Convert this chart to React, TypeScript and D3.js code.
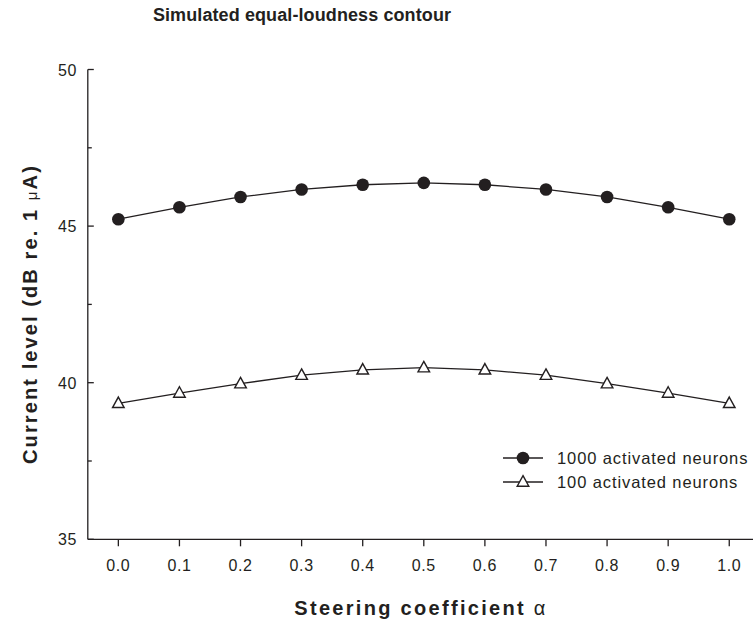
import React from "react";
import * as d3 from "d3";

const alphas = [0.0, 0.1, 0.2, 0.3, 0.4, 0.5, 0.6, 0.7, 0.8, 0.9, 1.0];
const neurons1000 = [45.22, 45.6, 45.93, 46.17, 46.32, 46.38, 46.32, 46.17, 45.93, 45.6, 45.22];
const neurons100 = [39.34, 39.67, 39.97, 40.24, 40.41, 40.48, 40.41, 40.24, 39.97, 39.67, 39.34];
const xTicks = [0.0, 0.1, 0.2, 0.3, 0.4, 0.5, 0.6, 0.7, 0.8, 0.9, 1.0];
const yTicks = [35, 40, 45, 50];
const yMinorTicks = [37.5, 42.5, 47.5];
const seriesNames = ["1000 activated neurons", "100 activated neurons"];

const W = 753;
const H = 625;
const FONT = "'Liberation Sans', Arial, Helvetica, sans-serif";
const INK = "#231f20";

export default function App() {
  const x = d3.scaleLinear().domain([-0.05, 1.05]).range([87.8, 759.8]);
  const y = d3.scaleLinear().domain([35, 50]).range([539.3, 69.5]);
  const line = d3
    .line<number>()
    .x((_, i) => x(alphas[i]))
    .y((d) => y(d));

  const tri = (cx: number, cy: number) =>
    `M${cx},${cy - 6.3} L${cx + 5.8},${cy + 4.2} L${cx - 5.8},${cy + 4.2} Z`;

  const x0 = x.range()[0];
  const y0 = y.range()[0];

  return (
    <svg
      width={W}
      height={H}
      style={{ position: "absolute", left: 0, top: 0, background: "#fff" }}
      fontFamily={FONT}
    >
      {/* title */}
      <text
        x={302}
        y={21}
        textAnchor="middle"
        fontSize={18}
        fontWeight="bold"
        letterSpacing={0.1}
        fill={INK}
      >
        Simulated equal-loudness contour
      </text>

      {/* axes */}
      <line x1={x0} x2={x0} y1={y(50)} y2={y0} stroke={INK} strokeWidth={1.3} />
      <line x1={x0} x2={W + 10} y1={y0} y2={y0} stroke={INK} strokeWidth={1.3} />

      {yTicks.map((t) => (
        <g key={"y" + t}>
          <line x1={x0} x2={x0 + 6} y1={y(t)} y2={y(t)} stroke={INK} strokeWidth={1.3} />
          <text
            x={77}
            y={y(t) + 6}
            textAnchor="end"
            fontSize={16}
            letterSpacing={0.6}
            fill={INK}
          >
            {t}
          </text>
        </g>
      ))}
      {yMinorTicks.map((t) => (
        <line key={"ym" + t} x1={x0} x2={x0 + 4} y1={y(t)} y2={y(t)} stroke={INK} strokeWidth={1.3} />
      ))}

      {xTicks.map((t) => (
        <g key={"x" + t}>
          <line x1={x(t)} x2={x(t)} y1={y0} y2={y0 + 7} stroke={INK} strokeWidth={1.3} />
          <text
            x={x(t)}
            y={571}
            textAnchor="middle"
            fontSize={16}
            letterSpacing={0.6}
            fill={INK}
          >
            {t.toFixed(1)}
          </text>
        </g>
      ))}

      {/* axis labels */}
      <text
        x={421}
        y={615}
        textAnchor="middle"
        fontSize={20}
        fontWeight="bold"
        letterSpacing={2.3}
        fill={INK}
      >
        Steering coefficient <tspan fontWeight="normal">α</tspan>
      </text>
      <text
        transform="translate(37,314) rotate(-90)"
        textAnchor="middle"
        fontSize={20}
        fontWeight="bold"
        letterSpacing={2.1}
        fill={INK}
      >
        Current level (dB re. 1 <tspan fontWeight="normal" fontSize={15}>μ</tspan>A)
      </text>

      {/* series lines */}
      <path d={line(neurons1000) || ""} fill="none" stroke={INK} strokeWidth={1.3} />
      <path d={line(neurons100) || ""} fill="none" stroke={INK} strokeWidth={1.3} />

      {/* markers */}
      {neurons1000.map((v, i) => (
        <circle key={"c" + i} cx={x(alphas[i])} cy={y(v)} r={6.3} fill={INK} />
      ))}
      {neurons100.map((v, i) => (
        <path key={"t" + i} d={tri(x(alphas[i]), y(v))} fill="#fff" stroke={INK} strokeWidth={1.4} />
      ))}

      {/* legend */}
      <g>
        <line x1={503} x2={543} y1={458} y2={458} stroke={INK} strokeWidth={1.3} />
        <circle cx={523} cy={458} r={6.3} fill={INK} />
        <text x={557} y={464} fontSize={16.5} letterSpacing={0.9} fill={INK}>
          {seriesNames[0]}
        </text>
        <line x1={503} x2={543} y1={482} y2={482} stroke={INK} strokeWidth={1.3} />
        <path d={tri(523, 482)} fill="#fff" stroke={INK} strokeWidth={1.4} />
        <text x={557} y={488} fontSize={16.5} letterSpacing={0.9} fill={INK}>
          {seriesNames[1]}
        </text>
      </g>
    </svg>
  );
}
